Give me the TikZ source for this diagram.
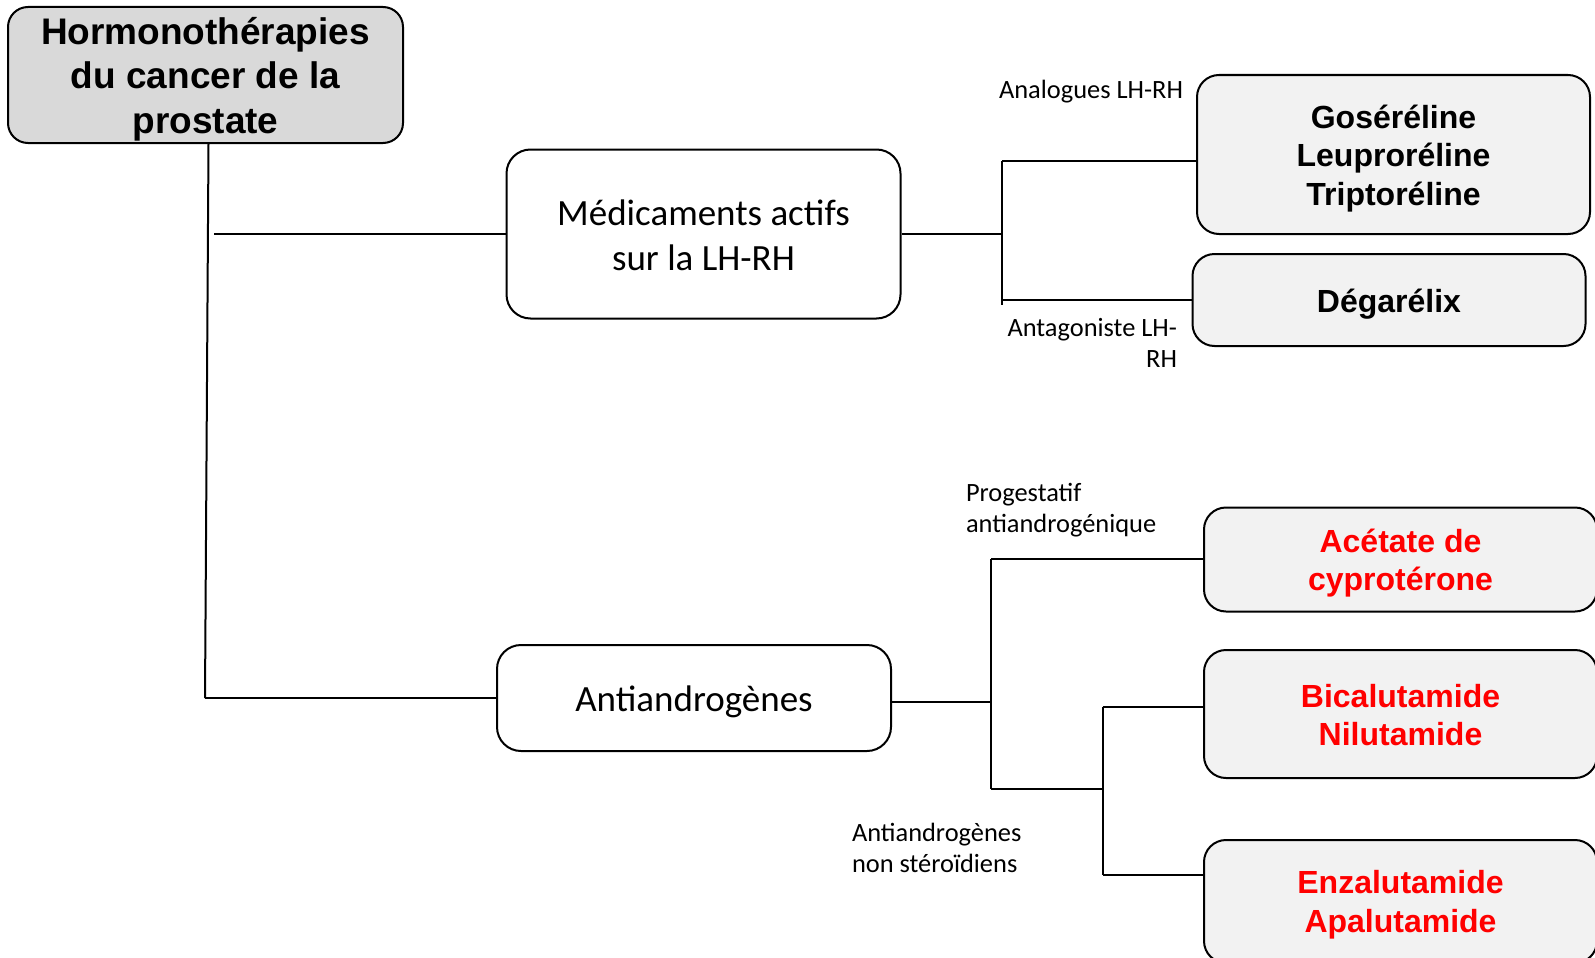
\documentclass[tikz,border=0pt]{standalone}
\usepackage{fontspec}
\setmainfont{Carlito}
\newfontfamily\arialfont{Liberation Sans}
\definecolor{titlegray}{HTML}{D9D9D9}
\definecolor{drugfill}{HTML}{F2F2F2}
\definecolor{drugred}{HTML}{FF0000}

% lower the text of a box a little, keeping the box where it is
\newcommand{\droptext}[2][4pt]{\raisebox{-#1}[\height][\depth]{\parbox{370pt}{\centering #2}}}

\tikzstyle{titlebox} = [draw, rounded corners=20pt, fill=titlegray, align=center, inner sep=0pt, minimum width=395pt, minimum height=136pt, font=\arialfont\bfseries\fontsize{37}{44.5}\selectfont]
\tikzstyle{classbox} = [draw, rounded corners=24pt, fill=white, align=center, inner sep=0pt, minimum width=394pt, font=\fontsize{37}{44.5}\selectfont]
\tikzstyle{drugbox} = [draw, rounded corners=22pt, fill=drugfill, align=center, inner sep=0pt, minimum width=393pt, font=\arialfont\bfseries\fontsize{32}{38.5}\selectfont]
\tikzstyle{reddrug} = [drugbox, text=drugred]
\tikzstyle{lbl} = [inner sep=0pt, font=\fontsize{26.4}{31.5}\selectfont]

\begin{document}
\begin{tikzpicture}[x=1pt, y=-1pt, line width=2pt]
	\useasboundingbox (0,0) rectangle (1595,958);

	% boxes
	\node[titlebox] (title) at (205.5,75) {\droptext{Hormonothérapies\\du cancer de la\\prostate}};
	\node[classbox, minimum height=169pt] (med) at (703.5,234) {\droptext[1.5pt]{Médicaments actifs\\sur la LH-RH}};
	\node[classbox, minimum height=106pt] (anti) at (694,698) {\droptext{Antiandrogènes}};
	\node[drugbox, minimum height=159pt] (gos) at (1393.5,154.5) {\droptext{Goséréline\\Leuproréline\\Triptoréline}};
	\node[drugbox, minimum height=92pt] (deg) at (1389,300) {\droptext{Dégarélix}};
	\node[reddrug, minimum height=104pt] (cpa) at (1400.5,559.5) {\droptext[3.5pt]{Acétate de\\cyprotérone}};
	\node[reddrug, minimum height=128pt] (bica) at (1400.5,714) {\droptext[1pt]{Bicalutamide\\Nilutamide}};
	\node[reddrug, minimum height=123pt] (enza) at (1400.5,901.5) {\droptext[3pt]{Enzalutamide\\Apalutamide}};

	% labels
	\node[lbl, anchor=east] (analog) at (1184,91.5) {Analogues LH-RH};
	\node[lbl, anchor=east, align=right] (antag) at (1178,343) {Antagoniste LH-\\RH};
	\node[lbl, anchor=west, align=left] (progest) at (965,510) {Progestatif\\antiandrogénique};
	\node[lbl, anchor=west, align=left] (nonster) at (851,848) {Antiandrogènes\\non stéroïdiens};

	% junctions
	\coordinate (trunk) at (205,698);
	\coordinate (medin) at (214,234);
	\coordinate (lhA) at (1002,234);
	\coordinate (lhtop) at (1002,160.7);
	\coordinate (lhbot) at (1002,305);
	\coordinate (lhdeg) at (1002,300);
	\coordinate (aaA) at (991,702);
	\coordinate (aatop) at (991,558.5);
	\coordinate (aabot) at (991,789.4);
	\coordinate (nsA) at (1102.6,789.4);
	\coordinate (nstop) at (1102.6,707);
	\coordinate (nsbot) at (1102.6,875);

	\draw ([xshift=3pt]title.south) -- (trunk);
	\draw (trunk) -- (anti);
	\draw (medin) -- (med);
	\draw (med) -- (lhA);
	\draw (lhtop) -- (lhbot);
	\draw (lhtop) -- (lhtop -| gos.west);
	\draw (lhdeg) -- (lhdeg -| deg.west);
	\draw (anti.east |- aaA) -- (aaA);
	\draw (aatop) -- (aabot);
	\draw (aatop) -- (aatop -| cpa.west);
	\draw (aabot) -- (nsA);
	\draw (nstop) -- (nsbot);
	\draw (nstop) -- (nstop -| bica.west);
	\draw (nsbot) -- (nsbot -| enza.west);
\end{tikzpicture}
\end{document}
